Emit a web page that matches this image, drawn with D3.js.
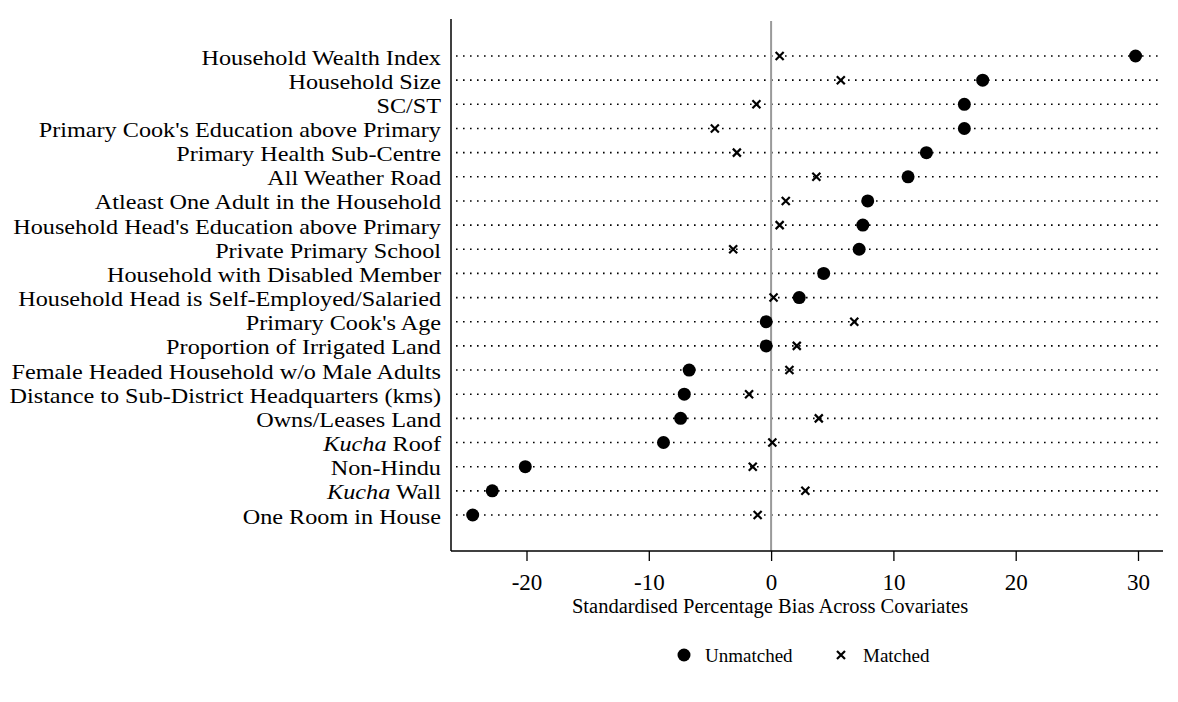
<!DOCTYPE html>
<html>
<head>
<meta charset="utf-8">
<script src="https://cdn.jsdelivr.net/npm/d3@7"></script>
<style>
  body { margin: 0; background: #fff; }
  svg { display: block; font-family: "Liberation Serif", "Times New Roman", serif; }
</style>
</head>
<body>
<svg id="chart" width="1178" height="702"></svg>
<script>
const categories = [
  "Household Wealth Index",
  "Household Size",
  "SC/ST",
  "Primary Cook's Education above Primary",
  "Primary Health Sub-Centre",
  "All Weather Road",
  "Atleast One Adult in the Household",
  "Household Head's Education above Primary",
  "Private Primary School",
  "Household with Disabled Member",
  "Household Head is Self-Employed/Salaried",
  "Primary Cook's Age",
  "Proportion of Irrigated Land",
  "Female Headed Household w/o Male Adults",
  "Distance to Sub-District Headquarters (kms)",
  "Owns/Leases Land",
  "*Kucha* Roof",
  "Non-Hindu",
  "*Kucha* Wall",
  "One Room in House"
];
const unmatched = [29.8, 17.3, 15.8, 15.8, 12.7, 11.2, 7.9, 7.5, 7.2, 4.3, 2.3, -0.4, -0.4, -6.7, -7.1, -7.4, -8.8, -20.1, -22.8, -24.4];
const matched   = [0.7, 5.7, -1.2, -4.6, -2.8, 3.7, 1.2, 0.7, -3.1, 4.2, 0.2, 6.8, 2.1, 1.5, -1.8, 3.9, 0.1, -1.5, 2.8, -1.1];
const xTicks = [-20, -10, 0, 10, 20, 30];
const xTitle = "Standardised Percentage Bias Across Covariates";
const legendLabels = ["Unmatched", "Matched"];

const svg = d3.select("#chart");
const plotLeft = 451, plotRight = 1163, plotTop = 19, plotBottom = 551;

const x = d3.scaleLinear().domain([-20, 30]).range([526.5, 1138]);
const y = d3.scalePoint().domain(categories).range([56, 515]);

// dotted row lines
svg.append("g").selectAll("line").data(categories).join("line")
  .attr("x1", plotLeft + 5).attr("x2", plotRight)
  .attr("y1", d => y(d)).attr("y2", d => y(d))
  .attr("stroke", "#000").attr("stroke-width", 1.6)
  .attr("stroke-dasharray", "1.6,5.4");

// zero line
svg.append("line")
  .attr("x1", x(0)).attr("x2", x(0))
  .attr("y1", plotTop + 2).attr("y2", plotBottom)
  .attr("stroke", "#9a9a9a").attr("stroke-width", 2);

// y axis
svg.append("line")
  .attr("x1", plotLeft).attr("x2", plotLeft)
  .attr("y1", plotTop).attr("y2", plotBottom)
  .attr("stroke", "#000").attr("stroke-width", 1.5);

// x axis
const xAxis = d3.axisBottom(x).tickValues(xTicks).tickSize(10).tickPadding(8).tickFormat(d => String(d));
const gx = svg.append("g").attr("transform", `translate(0,${plotBottom})`).call(xAxis);
gx.select(".domain").remove();
gx.selectAll(".tick line").attr("stroke", "#000").attr("stroke-width", 1.3);
gx.selectAll(".tick text").attr("font-size", 23).attr("fill", "#000")
  .attr("font-family", '"Liberation Serif", serif')
  .attr("y", 39).attr("dy", 0);
svg.append("line")
  .attr("x1", plotLeft).attr("x2", plotRight)
  .attr("y1", plotBottom).attr("y2", plotBottom)
  .attr("stroke", "#000").attr("stroke-width", 1.5);

svg.append("text")
  .attr("x", x(0) - 1).attr("y", 613)
  .attr("text-anchor", "middle").attr("font-size", 20.5)
  .text(xTitle);

// y labels with italic parts (slightly stretched horizontally to match the reference width)
const labelSize = 21, targetSize = 24.2;
const labels = svg.append("g").selectAll("text").data(categories).join("text")
  .attr("x", 441).attr("y", d => y(d) + 8.5)
  .attr("text-anchor", "end").attr("font-size", labelSize);
labels.each(function(d) {
  const t = d3.select(this);
  const parts = d.split("*");
  parts.forEach((p, i) => {
    if (!p) return;
    t.append("tspan").text(p).attr("font-style", i % 2 === 1 ? "italic" : "normal");
  });
  const w = this.getComputedTextLength();
  t.attr("textLength", w * targetSize / labelSize).attr("lengthAdjust", "spacingAndGlyphs");
});

// markers
svg.append("g").selectAll("circle").data(unmatched).join("circle")
  .attr("cx", d => x(d)).attr("cy", (d, i) => y(categories[i]))
  .attr("r", 6.5).attr("fill", "#000");

const crossPath = (cx, cy, s) => `M${cx - s},${cy - s}L${cx + s},${cy + s}M${cx - s},${cy + s}L${cx + s},${cy - s}`;
svg.append("g").selectAll("path").data(matched).join("path")
  .attr("d", (d, i) => crossPath(x(d), y(categories[i]), 4))
  .attr("stroke", "#000").attr("stroke-width", 2.2).attr("fill", "none");

// legend
const lg = svg.append("g");
lg.append("circle").attr("cx", 684).attr("cy", 655).attr("r", 6.5).attr("fill", "#000");
lg.append("text").attr("x", 705).attr("y", 662).attr("font-size", 19).text(legendLabels[0]);
lg.append("path").attr("d", crossPath(841, 655, 4)).attr("stroke", "#000").attr("stroke-width", 2.2);
lg.append("text").attr("x", 863).attr("y", 662).attr("font-size", 19).text(legendLabels[1]);
</script>
</body>
</html>
